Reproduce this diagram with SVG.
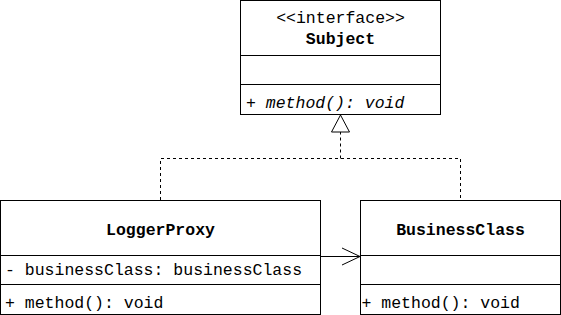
<svg xmlns="http://www.w3.org/2000/svg" width="561" height="315" viewBox="0 0 561 315">
  <defs>
    <style>
      .box { fill: #ffffff; stroke: #000000; stroke-width: 1; }
      .div { stroke: #000000; stroke-width: 1; fill: none; }
      .t { font-family: "Liberation Mono", "DejaVu Sans Mono", monospace; font-size: 16.5px; fill: #000000; }
      .title { font-weight: bold; text-anchor: middle; }
      .it { font-style: italic; }
      .dash { stroke: #000000; stroke-width: 1; fill: none; stroke-dasharray: 3 3; }
      .solid { stroke: #000000; stroke-width: 1; fill: none; }
    </style>
  </defs>

  <g id="connectors">
    <!-- realization: LoggerProxy and BusinessClass implement Subject -->
    <path class="dash" d="M160.5 200 V158.5 H460.5 V200"/>
    <path class="dash" d="M340.5 158.5 V132"/>
    <polygon points="340.5,115 331.5,132 349.5,132" fill="#ffffff" stroke="#000000" stroke-width="1"/>
    <!-- association: LoggerProxy -> BusinessClass -->
    <path class="solid" d="M320 256.5 H360"/>
    <path class="solid" d="M342 248 L360 256.5 L342 265"/>
  </g>

  <g id="subject">
    <rect class="box" x="240.5" y="0.5" width="200" height="114"/>
    <path class="div" d="M240.5 55.5 H440.5 M240.5 84.5 H440.5"/>
    <text class="t" x="340.5" y="23" text-anchor="middle">&lt;&lt;interface&gt;&gt;</text>
    <text class="t title" x="340.5" y="44">Subject</text>
    <text class="t it" x="246" y="108">+ method(): void</text>
  </g>

  <g id="loggerProxy">
    <rect class="box" x="0.5" y="200.5" width="320" height="114"/>
    <path class="div" d="M0.5 255.5 H320.5 M0.5 284.5 H320.5"/>
    <text class="t title" x="160.5" y="235">LoggerProxy</text>
    <text class="t" x="5" y="275">- businessClass: businessClass</text>
    <text class="t" x="5" y="308">+ method(): void</text>
  </g>

  <g id="businessClass">
    <rect class="box" x="360.5" y="200.5" width="200" height="114"/>
    <path class="div" d="M360.5 255.5 H560.5 M360.5 284.5 H560.5"/>
    <text class="t title" x="460.5" y="235">BusinessClass</text>
    <text class="t" x="361.5" y="308">+ method(): void</text>
  </g>
</svg>
